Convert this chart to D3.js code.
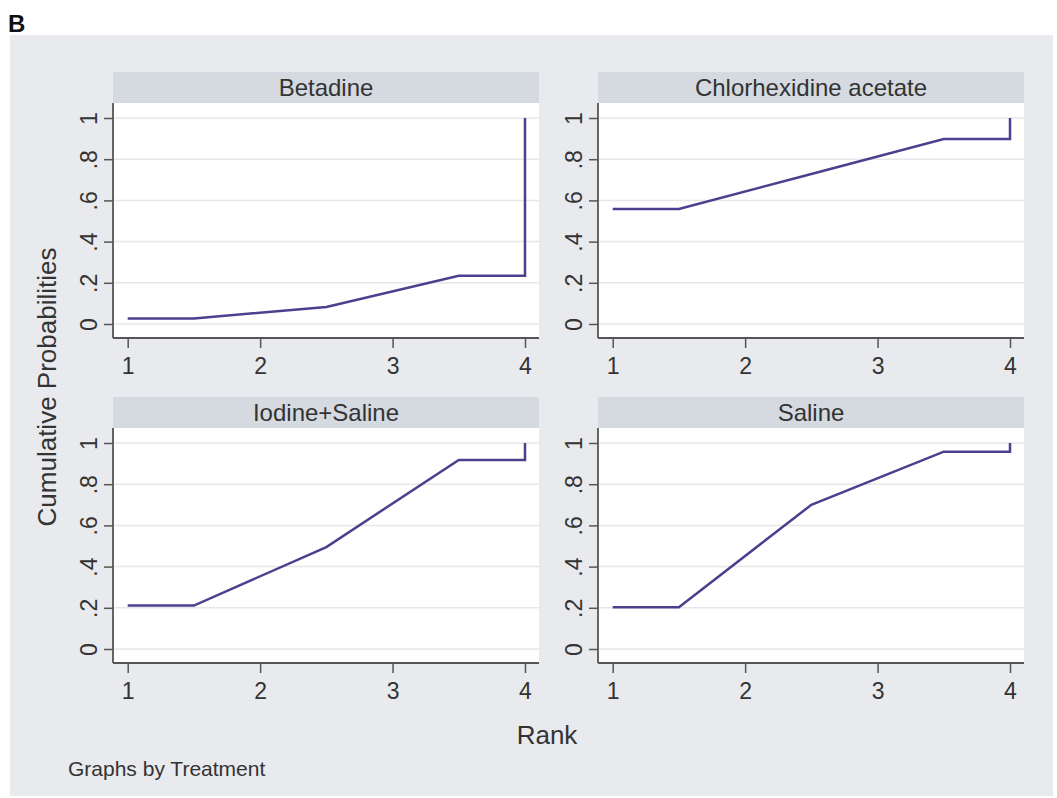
<!DOCTYPE html>
<html>
<head>
<meta charset="utf-8">
<script src="https://cdn.jsdelivr.net/npm/d3@7"></script>
<style>
  html, body { margin: 0; padding: 0; background: #ffffff; }
  svg { display: block; }
  text { font-family: "Liberation Sans", Arial, Helvetica, sans-serif; }
</style>
</head>
<body>
<svg id="chart" width="1057" height="798"></svg>
<script>
// ---- data ----
const treatments = ["Betadine", "Chlorhexidine acetate", "Iodine+Saline", "Saline"];
const rankPoints = [1, 1.5, 2.5, 3.5, 4, 4];
const betadine      = [0.027, 0.027, 0.083, 0.234, 0.234, 1];
const chlorhexidine = [0.558, 0.558, 0.728, 0.898, 0.898, 1];
const iodineSaline  = [0.211, 0.211, 0.495, 0.918, 0.918, 1];
const saline        = [0.203, 0.203, 0.700, 0.958, 0.958, 1];
const seriesValues = [betadine, chlorhexidine, iodineSaline, saline];
const xTicks = [1, 2, 3, 4];
const yTicks = [0, 0.2, 0.4, 0.6, 0.8, 1];
const yTickLabels = ["0", ".2", ".4", ".6", ".8", "1"];

// ---- layout ----
const svg = d3.select("#chart");
const bgColor = "#e8eaee", stripColor = "#d5d9e0", axisColor = "#555555",
      gridColor = "#e6e7e9", lineColor = "#4e3f8e", textColor = "#333333";

svg.append("rect").attr("x", 10).attr("y", 35).attr("width", 1043).attr("height", 761).attr("fill", bgColor);

svg.append("text").attr("x", 8).attr("y", 32).attr("font-size", 24).attr("font-weight", "bold")
  .attr("fill", "#111").text("B");

const colLeft = [113, 598];
const rowTop = [72, 397];
const panelW = 426, stripH = 31, plotH = 235;

treatments.forEach((name, i) => {
  const left = colLeft[i % 2];
  const top = rowTop[Math.floor(i / 2)];
  const plotTop = top + stripH;
  const g = svg.append("g");

  // strip
  g.append("rect").attr("x", left).attr("y", top).attr("width", panelW).attr("height", stripH).attr("fill", stripColor);
  g.append("text").attr("x", left + panelW / 2).attr("y", top + stripH / 2 + 8.5)
    .attr("text-anchor", "middle").attr("font-size", 24).attr("fill", textColor).text(name);

  // plot area
  g.append("rect").attr("x", left).attr("y", plotTop).attr("width", panelW).attr("height", plotH).attr("fill", "#ffffff");

  const x = d3.scaleLinear().domain([1, 4]).range([left + 14.7, left + 412]);
  const y = d3.scaleLinear().domain([0, 1]).range([plotTop + 221, plotTop + 15]);

  // grid
  g.selectAll(".grid").data(yTicks).enter().append("line")
    .attr("x1", left).attr("x2", left + panelW)
    .attr("y1", d => y(d)).attr("y2", d => y(d))
    .attr("stroke", gridColor).attr("stroke-width", 1.5);

  // y axis
  const yAxis = d3.axisLeft(y).tickValues(yTicks).tickSize(9).tickPadding(0)
    .tickFormat((d, k) => yTickLabels[k]);
  const ya = g.append("g").attr("transform", `translate(${left},0)`).call(yAxis);
  ya.select(".domain").remove();
  ya.selectAll(".tick line").attr("stroke", axisColor).attr("stroke-width", 1.5);
  ya.selectAll(".tick text")
    .attr("x", null).attr("dy", null)
    .attr("transform", "translate(-16,0) rotate(-90)")
    .attr("text-anchor", "middle")
    .attr("font-size", 23).attr("fill", textColor)
    .attr("font-family", "Liberation Sans, Arial, sans-serif");

  // x axis
  const xAxis = d3.axisBottom(x).tickValues(xTicks).tickSize(10).tickPadding(9)
    .tickFormat(d3.format("d"));
  const xa = g.append("g").attr("transform", `translate(0,${plotTop + plotH})`).call(xAxis);
  xa.select(".domain").remove();
  xa.selectAll(".tick line").attr("stroke", axisColor).attr("stroke-width", 1.5);
  xa.selectAll(".tick text").attr("dy", "0.72em").attr("font-size", 23).attr("fill", textColor)
    .attr("font-family", "Liberation Sans, Arial, sans-serif");

  // axis lines
  g.append("line").attr("x1", left).attr("x2", left).attr("y1", plotTop).attr("y2", plotTop + plotH)
    .attr("stroke", axisColor).attr("stroke-width", 1.8);
  g.append("line").attr("x1", left).attr("x2", left + panelW).attr("y1", plotTop + plotH).attr("y2", plotTop + plotH)
    .attr("stroke", axisColor).attr("stroke-width", 1.8);

  // line
  const pts = rankPoints.map((r, k) => [r, seriesValues[i][k]]);
  const line = d3.line().x(d => x(d[0])).y(d => y(d[1]));
  g.append("path").datum(pts).attr("d", line).attr("fill", "none")
    .attr("stroke", lineColor).attr("stroke-width", 2.5).attr("stroke-linejoin", "miter");
});

// axis titles
svg.append("text").attr("transform", "translate(56,387) rotate(-90)").attr("text-anchor", "middle")
  .attr("font-size", 26).attr("fill", textColor).text("Cumulative Probabilities");
svg.append("text").attr("x", 547).attr("y", 744).attr("text-anchor", "middle")
  .attr("font-size", 26).attr("fill", textColor).text("Rank");
svg.append("text").attr("x", 68).attr("y", 776)
  .attr("font-size", 21).attr("fill", textColor).text("Graphs by Treatment");
</script>
</body>
</html>
